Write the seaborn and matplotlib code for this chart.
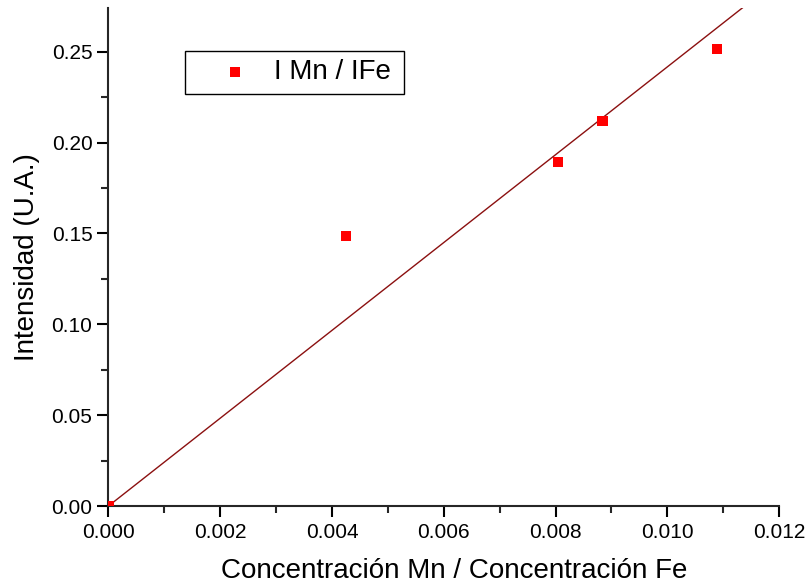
import matplotlib
matplotlib.use("Agg")
import matplotlib.pyplot as plt
import seaborn as sns
import pandas as pd
from matplotlib.ticker import MultipleLocator

x_vals = [0.0, 0.00425, 0.00805, 0.00884, 0.01089]
y_vals = [0.0, 0.1485, 0.1893, 0.2118, 0.2515]
fit_x = [0.0, 0.012]
fit_y = [0.0, 0.2900]
series_label = "I Mn / IFe"

sns.set_style("ticks")
plt.rcParams['font.family'] = ['Liberation Sans', 'DejaVu Sans']
plt.rcParams['text.color'] = 'black'
plt.rcParams['axes.labelcolor'] = 'black'

fig = plt.figure(figsize=(8.09, 5.83), dpi=100)
ax = fig.add_axes([0.134, 0.132, 0.829, 0.854])

df = pd.DataFrame({"x": x_vals, "y": y_vals})
dfit = pd.DataFrame({"x": fit_x, "y": fit_y})

sns.lineplot(data=dfit, x="x", y="y", ax=ax, color="#8B1010", linewidth=1.0, zorder=2)
sns.scatterplot(data=df, x="x", y="y", ax=ax, marker="s", s=55, color="#ff0000",
                edgecolor="none", label=series_label, zorder=3)

ax.set_xlim(0, 0.012)
ax.set_ylim(0, 0.274)
ax.xaxis.set_major_locator(MultipleLocator(0.002))
ax.xaxis.set_minor_locator(MultipleLocator(0.001))
ax.yaxis.set_major_locator(MultipleLocator(0.05))
ax.yaxis.set_minor_locator(MultipleLocator(0.025))
ax.xaxis.set_major_formatter(plt.FuncFormatter(lambda v, p: f"{v:.3f}"))
ax.yaxis.set_major_formatter(plt.FuncFormatter(lambda v, p: f"{v:.2f}"))

for s in ["top", "right"]:
    ax.spines[s].set_visible(False)
for s in ["left", "bottom"]:
    ax.spines[s].set_linewidth(1.5)

ax.tick_params(which="major", direction="out", length=8, width=1.5, labelsize=15, colors="black")
ax.tick_params(which="minor", direction="out", length=5, width=1.5)
ax.tick_params(axis="x", pad=4)

ax.set_xlabel("Concentración Mn / Concentración Fe", fontsize=20)
ax.xaxis.set_label_coords(0.516, -0.104)
ax.set_ylabel("Intensidad (U.A.)", fontsize=20, labelpad=8)

leg = ax.legend(loc="upper left", bbox_to_anchor=(0.114, 0.5, 0.327, 0.414), mode="expand",
                fontsize=20, frameon=True, fancybox=False, edgecolor="black", framealpha=1,
                borderpad=0.3, handletextpad=-0.1, handlelength=3.0, markerscale=1.0,
                borderaxespad=0)
leg.get_frame().set_linewidth(1.0)

fig.savefig("out.png", dpi=100)
